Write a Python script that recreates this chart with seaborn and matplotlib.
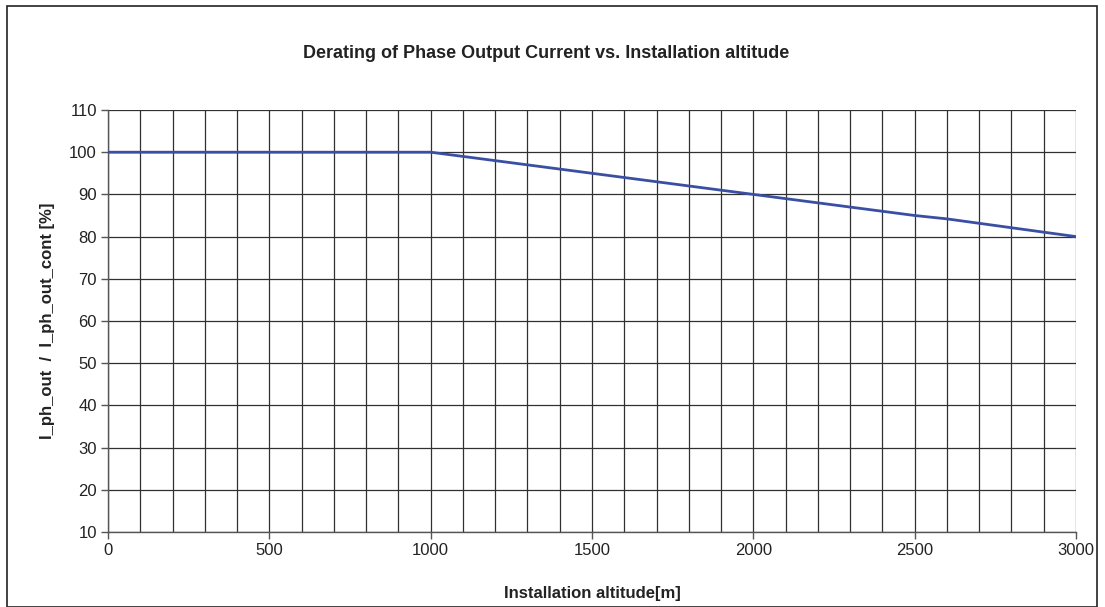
import matplotlib
matplotlib.use("Agg")
import matplotlib.pyplot as plt
from matplotlib.patches import Rectangle
from matplotlib.ticker import MultipleLocator
import pandas as pd
import seaborn as sns

# Derating curve: output current relative to continuous rating vs. altitude
altitude_m = [0, 500, 1000, 1100, 1500, 2000, 2500, 2600, 3000]
current_pct = [100, 100, 100, 99, 95, 90, 85, 84.2, 80]

title = "Derating of Phase Output Current vs. Installation altitude"
x_label = "Installation altitude[m]"
y_label = "I_ph_out  /  I_ph_out_cont [%]"

sns.set_theme(style="white")
plt.rcParams["font.family"] = ["Liberation Sans", "DejaVu Sans"]

df = pd.DataFrame({"altitude": altitude_m, "current": current_pct})

fig = plt.figure(figsize=(11.05, 6.07), dpi=100)
ax = fig.add_axes([108 / 1105, 1 - 532 / 607, (1076 - 108) / 1105, (532 - 110) / 607])

sns.lineplot(data=df, x="altitude", y="current", ax=ax,
             color="#3A4FA3", linewidth=2.0, zorder=3)

ax.set_xlim(0, 3000)
ax.set_ylim(10, 110)
ax.xaxis.set_major_locator(MultipleLocator(500))
ax.xaxis.set_minor_locator(MultipleLocator(100))
ax.yaxis.set_major_locator(MultipleLocator(10))

ax.grid(True, which="both", axis="x", color="#303030", linewidth=0.9)
ax.grid(True, which="major", axis="y", color="#303030", linewidth=0.9)
ax.set_axisbelow(True)

for side in ("top", "right"):
    ax.spines[side].set_visible(False)
for side in ("left", "bottom"):
    ax.spines[side].set_color("#555555")
    ax.spines[side].set_linewidth(1.0)

ax.tick_params(axis="both", which="major", direction="out", length=5,
               width=1.0, color="#555555", labelsize=12, labelcolor="#222222",
               bottom=True, left=True)
ax.tick_params(axis="x", which="major", pad=3)
ax.tick_params(axis="y", which="major", pad=3)
ax.tick_params(axis="x", which="minor", bottom=False)

ax.set_xlabel(x_label, fontsize=12, fontweight="bold", color="#222222", labelpad=20)
ax.set_ylabel(y_label, fontsize=12, fontweight="bold", color="#222222", labelpad=10)

fig.text(0.494, 1 - 54 / 607, title, ha="center", va="center",
         fontsize=13, fontweight="bold", color="#222222")

# Chart-area frame
fig.patches.append(Rectangle((7 / 1105, 0), (1097 - 7) / 1105, 1 - 6 / 607,
                             transform=fig.transFigure, fill=False,
                             edgecolor="#222222", linewidth=1.2))

fig.savefig("out.png", dpi=100)
